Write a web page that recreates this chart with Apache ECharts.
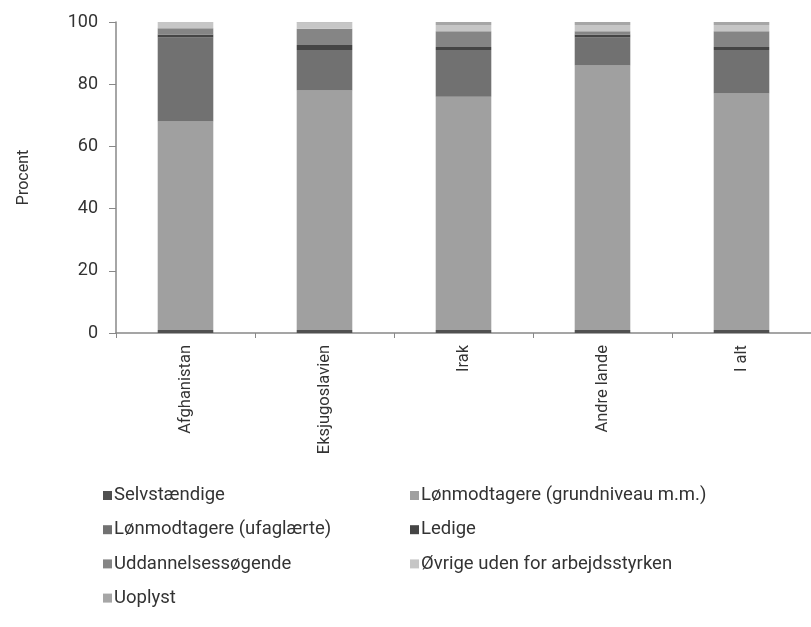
<!DOCTYPE html>
<html>
  <head>
    <meta charset="utf-8" />
    <title>Procent fordeling</title>
    <script src="https://cdn.jsdelivr.net/npm/echarts@6/dist/echarts.min.js"></script>
  </head>
  <body style="margin:0">
    <div id="container" style="width: 811px;height: 627px;"></div>
    <script type="text/javascript">
    // kategorier og værdier (procent)
    var lande = ['Afghanistan', 'Eksjugoslavien', 'Irak', 'Andre lande', 'I alt'];
    var selvstaendige = [1, 1, 1, 1, 1];
    var grundniveau = [67, 77, 75, 85, 76];
    var ufaglaerte = [27, 13, 15, 9, 14];
    var ledige = [1, 1.6, 1, 1, 1];
    var uddannelse = [2, 5.2, 5, 1, 5];
    var oevrige = [2, 2, 2, 2, 2];
    var uoplyst = [0, 0.2, 1, 1, 1];

    var fnt = 'Roboto';
    var myChart = echarts.init(document.getElementById('container'));

    function serie(navn, data, farve) {
        return {
            name: navn,
            type: 'bar',
            stack: 'alle',
            data: data,
            barCategoryGap: '60%',
            itemStyle: { color: farve }
        };
    }

    var legendTekst = { fontFamily: fnt, fontSize: 18.5, color: '#333', padding: [0, 0, 0, -3] };

    var option = {
        animation: false,
        textStyle: { fontFamily: fnt },
        grid: { left: 116, right: 0, top: 22, bottom: 294 },
        legend: [{
            left: 98, top: 481, orient: 'vertical',
            itemWidth: 9, itemHeight: 9, itemGap: 15.2,
            icon: 'rect',
            textStyle: legendTekst,
            data: ['Selvstændige', 'Lønmodtagere (ufaglærte)', 'Uddannelsessøgende', 'Uoplyst']
        }, {
            left: 405, top: 481, orient: 'vertical',
            itemWidth: 9, itemHeight: 9, itemGap: 15.2,
            icon: 'rect',
            textStyle: legendTekst,
            data: ['Lønmodtagere (grundniveau m.m.)', 'Ledige', 'Øvrige uden for arbejdsstyrken']
        }],
        xAxis: {
            type: 'category',
            data: lande,
            axisLine: { lineStyle: { color: '#888', width: 1.5 } },
            axisTick: { show: true, length: 5, lineStyle: { color: '#888' } },
            axisLabel: { rotate: 90, fontSize: 16.5, color: '#333', margin: 12, fontFamily: fnt }
        },
        yAxis: {
            type: 'value',
            min: 0, max: 100, interval: 20,
            name: 'Procent',
            nameLocation: 'middle',
            nameGap: 84,
            nameTextStyle: { fontSize: 16, color: '#333', fontFamily: fnt },
            axisLine: { show: true, lineStyle: { color: '#888', width: 1.5 } },
            axisTick: { show: true, length: 7, lineStyle: { color: '#888' } },
            axisLabel: { fontSize: 18, color: '#333', margin: 18, fontFamily: fnt },
            splitLine: { show: false }
        },
        series: [
            serie('Selvstændige', selvstaendige, '#505050'),
            serie('Lønmodtagere (grundniveau m.m.)', grundniveau, '#a0a0a0'),
            serie('Lønmodtagere (ufaglærte)', ufaglaerte, '#717171'),
            serie('Ledige', ledige, '#454545'),
            serie('Uddannelsessøgende', uddannelse, '#858585'),
            serie('Øvrige uden for arbejdsstyrken', oevrige, '#c6c6c6'),
            serie('Uoplyst', uoplyst, '#a6a6a6')
        ]
    };
    myChart.setOption(option);
    </script>
  </body>
</html>
